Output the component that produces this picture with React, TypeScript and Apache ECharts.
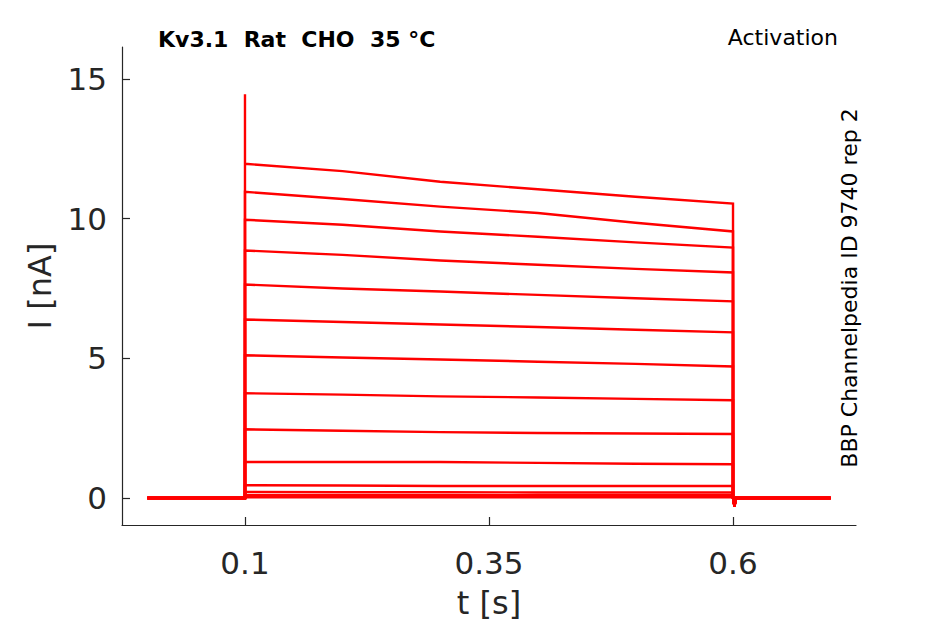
import React, { useEffect, useRef } from "react";
import * as echarts from "echarts";

// Sample times (s) at which each sweep's current is read during the step
const stepTimes = [0.1, 0.2, 0.3, 0.4, 0.5, 0.6];

// Current (nA) of each sweep at the stepTimes
const sweep01 = [11.96, 11.7, 11.32, 11.05, 10.78, 10.54];
const sweep02 = [10.96, 10.7, 10.43, 10.2, 9.85, 9.54];
const sweep03 = [9.96, 9.78, 9.54, 9.35, 9.15, 8.96];
const sweep04 = [8.86, 8.7, 8.5, 8.35, 8.2, 8.07];
const sweep05 = [7.64, 7.5, 7.39, 7.27, 7.15, 7.04];
const sweep06 = [6.39, 6.3, 6.21, 6.12, 6.02, 5.93];
const sweep07 = [5.11, 5.03, 4.96, 4.88, 4.8, 4.71];
const sweep08 = [3.75, 3.7, 3.64, 3.6, 3.55, 3.5];
const sweep09 = [2.46, 2.41, 2.36, 2.33, 2.31, 2.29];
const sweep10 = [1.29, 1.29, 1.29, 1.26, 1.23, 1.21];
const sweep11 = [0.46, 0.45, 0.43, 0.43, 0.43, 0.43];
const sweep12 = [0.22, 0.21, 0.21, 0.2, 0.2, 0.2];
const sweep13 = [0.1, 0.1, 0.1, 0.1, 0.1, 0.1];
const sweep14 = [0.03, 0.03, 0.03, 0.03, 0.03, 0.03];
const sweeps = [sweep01, sweep02, sweep03, sweep04, sweep05, sweep06, sweep07, sweep08, sweep09, sweep10, sweep11, sweep12, sweep13, sweep14];

// Baseline before and after the step
const preTimes = [0.0, 0.1];
const preValues = [0, 0];
const postTimes = [0.6, 0.6015, 0.603, 0.7];
const postValues = [0, -0.29, 0, 0];

// Capacitive spike of the largest sweep
const spikeTimes = [0.1];
const spikeValues = [14.45];

// Axis ticks
const xTicks = [0.1, 0.35, 0.6];
const yTicks = [0, 5, 10, 15];

const titleText = "Kv3.1  Rat  CHO  35 °C";
const protocolText = "Activation";
const sourceText = "BBP Channelpedia ID 9740 rep 2";

const AXIS = "#262626";
const FONT = "DejaVu Sans";

export default function App() {
  const ref = useRef<HTMLDivElement>(null);
  useEffect(() => {
    if (!ref.current) return;
    const chart = echarts.init(ref.current, null, { renderer: "svg" });
    const series = sweeps.map((sw, k) => {
      const data: number[][] = [];
      preTimes.forEach((t, i) => data.push([t, preValues[i]]));
      if (k === 0) spikeTimes.forEach((t, i) => data.push([t, spikeValues[i]]));
      stepTimes.forEach((t, i) => data.push([t, sw[i]]));
      postTimes.forEach((t, i) => data.push([t, postValues[i]]));
      return {
        type: "line",
        data,
        showSymbol: false,
        silent: true,
        lineStyle: { color: "#ff0000", width: 2.4, join: "miter" },
        z: 10 - k * 0.1,
      };
    });
    chart.setOption({
      animation: false,
      backgroundColor: "#ffffff",
      grid: { left: 122, right: 89, top: 47, bottom: 98 },
      xAxis: {
        type: "value",
        min: -0.026,
        max: 0.726,
        name: "t [s]",
        nameLocation: "middle",
        nameGap: 62,
        nameTextStyle: { fontFamily: FONT, fontSize: 32, color: AXIS },
        axisLine: { show: true, onZero: false, lineStyle: { color: AXIS, width: 1.2 } },
        axisTick: { show: true, inside: true, length: 8, customValues: xTicks, lineStyle: { color: AXIS, width: 1.2 } },
        axisLabel: { customValues: xTicks, margin: 22, fontFamily: FONT, fontSize: 31, color: AXIS },
        splitLine: { show: false },
      },
      yAxis: {
        type: "value",
        min: -0.964,
        max: 16.14,
        name: "I [nA]",
        nameLocation: "middle",
        nameGap: 66,
        nameTextStyle: { fontFamily: FONT, fontSize: 32, color: AXIS },
        axisLine: { show: true, onZero: false, lineStyle: { color: AXIS, width: 1.2 } },
        axisTick: { show: true, inside: true, length: 8, customValues: yTicks, lineStyle: { color: AXIS, width: 1.2 } },
        axisLabel: { customValues: yTicks, margin: 15, fontFamily: FONT, fontSize: 31, color: AXIS },
        splitLine: { show: false },
      },
      graphic: [
        {
          type: "text",
          left: 158,
          top: 28,
          style: { text: titleText, fontFamily: FONT, fontSize: 22, fontWeight: "bold", fill: "#000" },
        },
        {
          type: "text",
          right: 107,
          top: 26,
          style: { text: protocolText, fontFamily: FONT, fontSize: 22, fill: "#000" },
        },
        {
          type: "text",
          x: 849,
          y: 288,
          rotation: Math.PI / 2,
          style: { text: sourceText, fontFamily: FONT, fontSize: 22, fill: "#000", align: "center", verticalAlign: "middle" },
        },
      ],
      series,
    });
    return () => chart.dispose();
  }, []);
  return <div ref={ref} style={{ position: "fixed", left: 0, top: 0, width: 945, height: 624 }} />;
}
